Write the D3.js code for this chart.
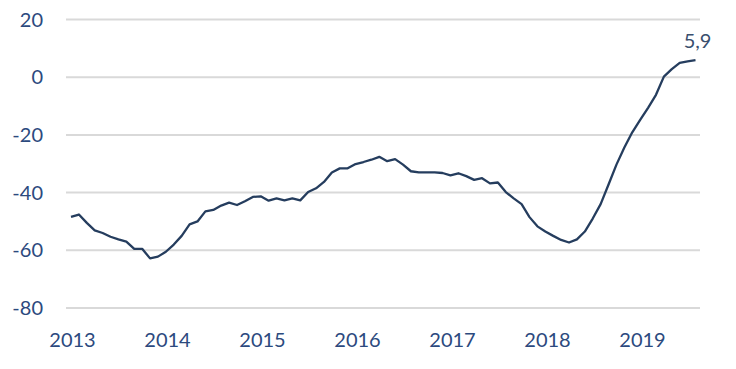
<!DOCTYPE html>
<html>
<head>
<meta charset="utf-8">
<script src="https://cdn.jsdelivr.net/npm/d3@7"></script>
<style>
html,body{margin:0;padding:0;background:#fff;}
svg{display:block;}
</style>
</head>
<body>
<svg id="chart" width="736" height="369"></svg>
<script>
// Monthly values, Jan 2013 .. Aug 2019
const startYear = 2013;
const values = [
  -48.4, -47.6, -50.5, -53.1, -54.0, -55.3, -56.2, -57.0, -59.5, -59.5, -62.8, -62.2,
  -60.5, -58.0, -55.0, -51.0, -50.0, -46.5, -46.0, -44.5, -43.5, -44.3, -43.0, -41.5,
  -41.3, -42.8, -42.0, -42.7, -42.0, -42.7, -39.8, -38.5, -36.3, -33.0, -31.6, -31.6,
  -30.1, -29.4, -28.6, -27.6, -29.1, -28.4, -30.3, -32.6, -33.0, -33.0, -33.0, -33.2,
  -34.0, -33.3, -34.3, -35.6, -35.0, -36.8, -36.5, -39.8, -42.0, -44.0, -48.5, -51.7,
  -53.5, -55.0, -56.4, -57.3, -56.2, -53.5, -49.0, -44.0, -37.2, -30.3, -24.4, -19.1,
  -14.8, -10.6, -6.1, 0.2, 2.8, 5.0, 5.5, 5.9
];
const yTicks = [-80, -60, -40, -20, 0, 20];
const xYears = [2013, 2014, 2015, 2016, 2017, 2018, 2019];
const lastLabel = "5,9";

const svg = d3.select("#chart");
const mLeft = 66, mRight = 700, mTop = 19.5, mBottom = 308;

const x = d3.scaleLinear().domain([0, 79]).range([71, 695.5]);
const xYear = d3.scaleLinear().domain([2013, 2019]).range([72, 642]);
const y = d3.scaleLinear().domain([-80, 20]).range([mBottom, mTop]);

const font = "Lato, 'Open Sans', sans-serif";
const textColor = "#2c4a7e";

// gridlines
svg.append("g").selectAll("line").data(yTicks).join("line")
  .attr("x1", mLeft).attr("x2", mRight)
  .attr("y1", d => y(d)).attr("y2", d => y(d))
  .attr("stroke", "#d9d9d9").attr("stroke-width", 2);

// y labels
const yAxis = d3.axisLeft(y).tickValues(yTicks).tickSize(0).tickPadding(0).tickFormat(d => String(d));
const gy = svg.append("g").attr("transform", "translate(43,0)").call(yAxis);
gy.select(".domain").remove();
gy.selectAll("text").attr("font-family", font).attr("font-size", 20)
  .attr("fill", textColor).attr("dy", "0.33em");

// x labels
const xAxis = d3.axisBottom(xYear).tickValues(xYears).tickSize(0).tickPadding(0).tickFormat(d => String(d));
const gx = svg.append("g").attr("transform", "translate(0,333)").call(xAxis);
gx.select(".domain").remove();
gx.selectAll("text").attr("font-family", font).attr("font-size", 20)
  .attr("fill", textColor).attr("dy", "0.71em");

// line
const line = d3.line().x((d, i) => x(i)).y(d => y(d));
svg.append("path").datum(values)
  .attr("d", line)
  .attr("fill", "none")
  .attr("stroke", "#253d5e")
  .attr("stroke-width", 2.3)
  .attr("stroke-linejoin", "round");

// last value label
const li = values.length - 1;
svg.append("text")
  .attr("x", x(li) + 2).attr("y", y(values[li]) - 12)
  .attr("text-anchor", "middle")
  .attr("font-family", font).attr("font-size", 20)
  .attr("fill", "#3a4f6e")
  .text(lastLabel);
</script>
</body>
</html>
